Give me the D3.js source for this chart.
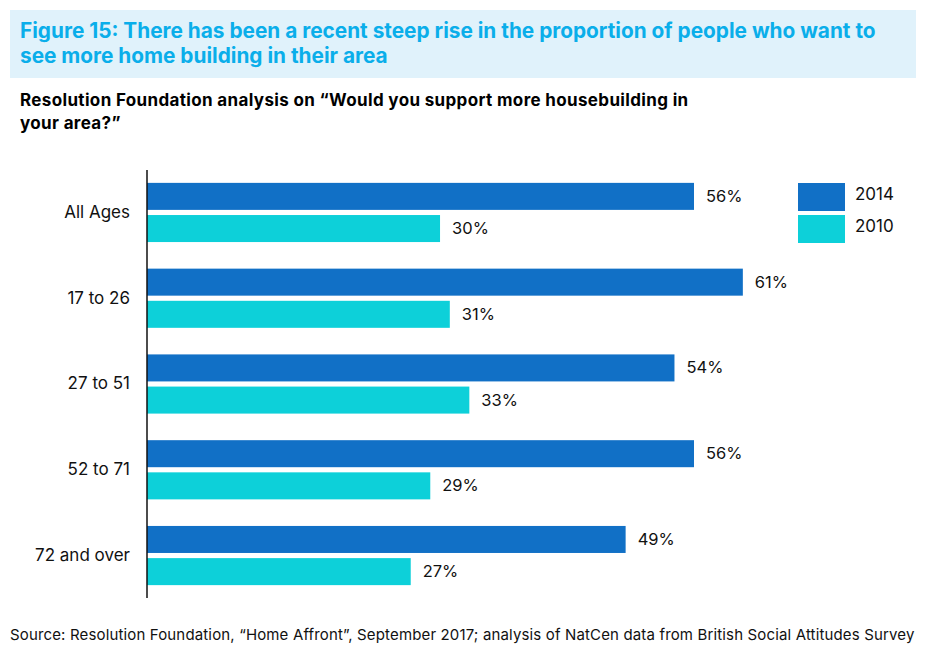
<!DOCTYPE html>
<html>
<head>
<meta charset="utf-8">
<script src="https://cdn.jsdelivr.net/npm/d3@7"></script>
<style>
  body { margin: 0; background: #fff; }
  svg { display: block; font-family: Inter, "Open Sans", sans-serif; }
</style>
</head>
<body>
<div id="chart"></div>
<script>
const categories = ['All Ages', '17 to 26', '27 to 51', '52 to 71', '72 and over'];
const seriesNames = ['2014', '2010'];
const values2014 = [56, 61, 54, 56, 49];
const values2010 = [30, 31, 33, 29, 27];
const colors = ['#1170c6', '#0dd0d9'];

const titleLines = [
  'Figure 15: There has been a recent steep rise in the proportion of people who want to',
  'see more home building in their area'
];
const subtitleLines = [
  'Resolution Foundation analysis on \u201cWould you support more housebuilding in',
  'your area?\u201d'
];
const sourceText = 'Source: Resolution Foundation, \u201cHome Affront\u201d, September 2017; analysis of NatCen data from British Social Attitudes Survey';

const W = 936, H = 670;
const svg = d3.select('#chart').append('svg')
  .attr('width', W).attr('height', H);

// Title box
svg.append('rect')
  .attr('x', 10).attr('y', 10).attr('width', 906).attr('height', 68)
  .attr('fill', '#e0f2fb');
svg.append('g').selectAll('text')
  .data(titleLines)
  .join('text')
  .attr('x', 20)
  .attr('y', (d, i) => 38 + i * 25)
  .attr('font-size', '20.8px')
  .attr('font-weight', 700)
  .attr('fill', '#0aaeea')
  .text(d => d);

svg.append('g').selectAll('text')
  .data(subtitleLines)
  .join('text')
  .attr('x', 20)
  .attr('y', (d, i) => 106 + i * 23)
  .attr('font-size', '17px')
  .attr('letter-spacing', '0.35px')
  .attr('font-weight', 700)
  .attr('fill', '#000')
  .text(d => d);

const data = categories.map((c, i) => ({
  label: c,
  vals: [
    { key: seriesNames[0], value: values2014[i] },
    { key: seriesNames[1], value: values2010[i] }
  ]
}));

const x = d3.scaleLinear().domain([0, 56]).range([147, 694]);
const y = d3.scaleBand()
  .domain(categories)
  .range([170, 598])
  .paddingInner(0.31)
  .paddingOuter(0.15);
const ySub = d3.scaleBand()
  .domain(seriesNames)
  .range([0, y.bandwidth()])
  .paddingInner(0.16);
const color = d3.scaleOrdinal().domain(seriesNames).range(colors);

const groups = svg.append('g').selectAll('g')
  .data(data)
  .join('g')
  .attr('transform', d => `translate(0,${y(d.label)})`);

groups.selectAll('rect')
  .data(d => d.vals)
  .join('rect')
  .attr('x', x(0))
  .attr('y', d => ySub(d.key))
  .attr('width', d => x(d.value) - x(0))
  .attr('height', ySub.bandwidth())
  .attr('fill', d => color(d.key));

groups.selectAll('text.val')
  .data(d => d.vals)
  .join('text')
  .attr('class', 'val')
  .attr('x', d => x(d.value) + 12)
  .attr('y', d => ySub(d.key) + ySub.bandwidth() / 2 + 1)
  .attr('dominant-baseline', 'middle')
  .attr('font-size', '16.5px')
  .attr('fill', '#111')
  .text(d => d.value + '%');

// Category axis
svg.append('g')
  .attr('transform', `translate(${x(0)},0)`)
  .call(d3.axisLeft(y).tickSize(0).tickPadding(17))
  .call(ax => ax.select('.domain').attr('d', 'M0,170V598').attr('stroke', '#111').attr('stroke-width', 1.5))
  .call(ax => ax.selectAll('text')
    .attr('font-size', '17px')
    .attr('font-family', 'Inter, sans-serif')
    .attr('fill', '#111'));

// Legend
const legend = svg.append('g').selectAll('g')
  .data(seriesNames)
  .join('g')
  .attr('transform', (d, i) => `translate(798,${183 + i * 32})`);
legend.append('rect')
  .attr('width', 47).attr('height', 28)
  .attr('fill', d => color(d));
legend.append('text')
  .attr('x', 57).attr('y', 12)
  .attr('dominant-baseline', 'middle')
  .attr('font-size', '17px')
  .attr('fill', '#111')
  .text(d => d);

svg.append('text')
  .attr('x', 10).attr('y', 640)
  .attr('font-size', '15px')
  .attr('letter-spacing', '0.15px')
  .attr('fill', '#111')
  .text(sourceText);
</script>
</body>
</html>
